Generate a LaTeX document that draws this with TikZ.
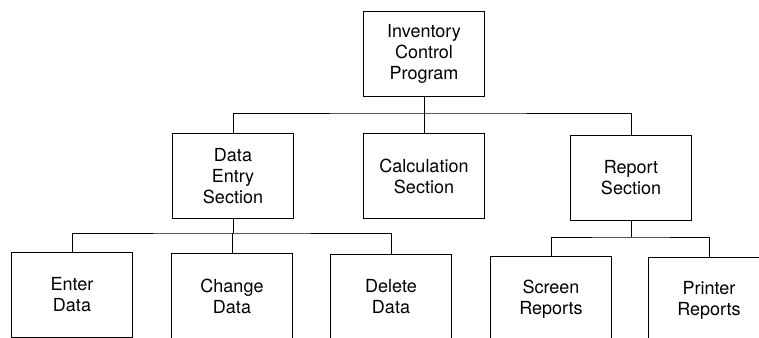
\documentclass[tikz,border=0pt]{standalone}
\usepackage{fontspec}
\setmainfont{TeX Gyre Heros}
\begin{document}
\begin{tikzpicture}[x=0.75pt, y=-0.75pt,
    module/.style={draw, line width=0.7pt, align=center, inner sep=2pt,
        minimum width=90.75pt, minimum height=63.75pt,
        font=\fontsize{13.5}{15.75}\selectfont},
    link/.style={line width=0.7pt}]
% Frame (pixel units, y downwards)
\useasboundingbox (0,0) rectangle (759,338);
\clip (0,0) rectangle (759,338);

% Program
\node[module] (program) at (424,54) {Inventory\\Control\\Program};

% Sections
\node[module] (entry)  at (233,176) {Data\\Entry\\Section};
\node[module] (calc)   at (424,176) {Calculation\\Section};
\node[module] (report) at (631,178) {Report\\Section};

% Data entry modules
\node[module] (enter)  at (72,295)  {Enter\\Data};
\node[module] (change) at (232,296) {Change\\Data};
\node[module] (delete) at (391,297) {Delete\\Data};

% Report modules
\node[module] (screen)  at (551,299) {Screen\\Reports};
\node[module] (printer) at (709,300) {Printer\\Reports};

% Buses
\coordinate (bus1) at (0,113);
\coordinate (bus2) at (0,233);
\coordinate (bus3) at (0,237);

% Connectors
\draw[link] (program.south) -- (calc.north);
\draw[link] (entry.north) |- (bus1 -| calc) -| (report.north);
\draw[link] (entry.south) -- (entry.south |- bus2);
\draw[link] (enter.north) |- (bus2 -| change) -| (delete.north);
\draw[link] (bus2 -| change) -- (change.north);
\draw[link] (report.south) -- (report.south |- bus3);
\draw[link] (screen.north) |- (bus3 -| report) -| (printer.north);
\end{tikzpicture}
\end{document}
